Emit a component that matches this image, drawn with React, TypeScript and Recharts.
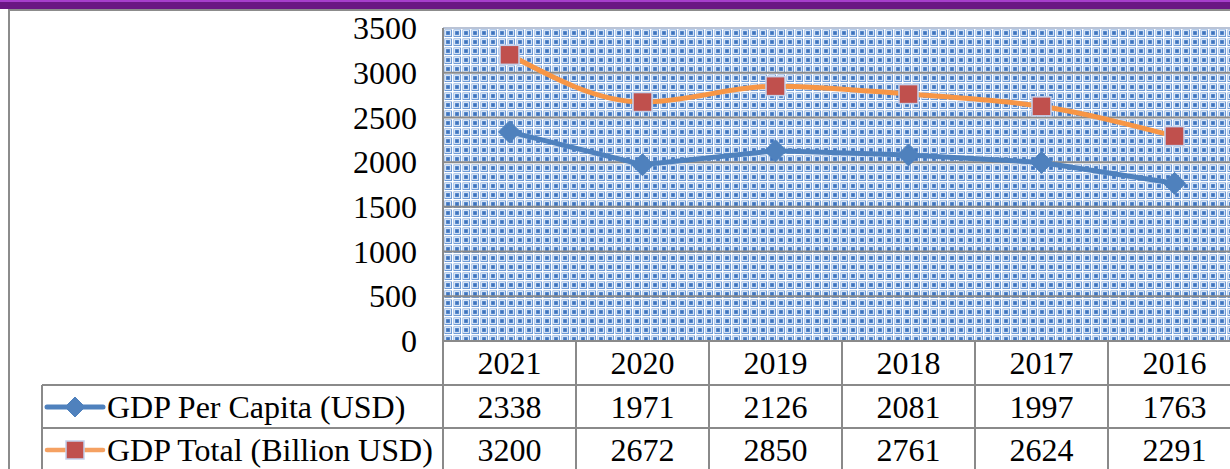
import { ComposedChart, Line, XAxis, YAxis, CartesianGrid } from 'recharts';

const years = ['2021', '2020', '2019', '2018', '2017', '2016'];
const perCapita = [2338, 1971, 2126, 2081, 1997, 1763];
const totalGdp = [3200, 2672, 2850, 2761, 2624, 2291];
const yTicks = [0, 500, 1000, 1500, 2000, 2500, 3000, 3500];

const SERIES = [
  { key: 'perCapita', label: 'GDP Per Capita (USD)', color: '#4f81bd' },
  { key: 'total', label: 'GDP Total (Billion USD)', color: '#f79646' },
];

const data = years.map((year, i) => ({
  year,
  perCapita: perCapita[i],
  total: totalGdp[i],
}));

const FONT = 'Liberation Serif';
const FS = 32;
const GRID = '#8a8a8a';
const PLOT_LEFT = 443;
const PLOT_TOP = 28;
const PLOT_BOTTOM = 341;
const COL_W = 133;
const ROW1 = 385;
const ROW2 = 428;
const H = 469;

const textStyle = { fontFamily: FONT, fontSize: FS };

function Diamond({ cx, cy, size = 11 }: { cx: number; cy: number; size?: number }) {
  return (
    <path
      d={`M${cx},${cy - size} L${cx + size},${cy} L${cx},${cy + size} L${cx - size},${cy} Z`}
      fill="#4f81bd"
      stroke="#4f81bd"
      strokeWidth={1}
    />
  );
}

function Square({ cx, cy, size = 9.5 }: { cx: number; cy: number; size?: number }) {
  return (
    <rect
      x={cx - size}
      y={cy - size}
      width={size * 2}
      height={size * 2}
      fill="#c0504d"
      stroke="#c3d1ec"
      strokeWidth={1.5}
    />
  );
}

/** Each x tick draws its column of the data table under the plot. */
function TableTick(props: any) {
  const { x, payload } = props;
  const i = payload.index;
  const left = x - COL_W / 2;
  const right = x + COL_W / 2;
  return (
    <g>
      <line x1={left} x2={left} y1={PLOT_BOTTOM} y2={H} stroke={GRID} strokeWidth={2} />
      <line x1={right} x2={right} y1={PLOT_BOTTOM} y2={H} stroke={GRID} strokeWidth={2} />
      <line x1={left} x2={right} y1={ROW1} y2={ROW1} stroke={GRID} strokeWidth={2} />
      <line x1={left} x2={right} y1={ROW2} y2={ROW2} stroke={GRID} strokeWidth={2} />
      <text x={x} y={363} dy="0.35em" textAnchor="middle" fill="#000" style={textStyle}>{years[i]}</text>
      <text x={x} y={407} dy="0.35em" textAnchor="middle" fill="#000" style={textStyle}>{perCapita[i]}</text>
      <text x={x} y={450} dy="0.35em" textAnchor="middle" fill="#000" style={textStyle}>{totalGdp[i]}</text>
    </g>
  );
}

function YTick(props: any) {
  const { x, y, payload } = props;
  return (
    <text x={x + 1} y={y} dy="0.35em" textAnchor="end" fill="#000" style={textStyle}>
      {payload.value}
    </text>
  );
}

export default function App() {
  return (
    <div
      style={{
        position: 'absolute',
        left: 0,
        top: 0,
        width: 1230,
        height: H,
        overflow: 'hidden',
        background: '#fff',
      }}
    >
      <svg width={0} height={0} style={{ position: 'absolute' }}>
        <defs>
          {/* woven fill of the plot area */}
          <pattern id="weave" x={443} y={28} width={9} height={9} patternUnits="userSpaceOnUse">
            <rect width={9} height={9} fill="#6d9ad6" />
            <rect x={0} y={0} width={9} height={1.5} fill="#ffffff" />
            <rect x={0} y={0} width={1.5} height={9} fill="#ffffff" />
            <rect x={2.5} y={2.5} width={5} height={5} fill="none" stroke="#d6e4f6" strokeWidth={1} />
            <rect x={3.5} y={3.5} width={3} height={3} fill="#3f74bd" />
          </pattern>
        </defs>
      </svg>

      {/* page frame */}
      <div style={{ position: 'absolute', left: 0, top: 0, width: 1230, height: 2, background: '#a63fcb' }} />
      <div style={{ position: 'absolute', left: 0, top: 2, width: 1230, height: 7, background: '#6a1783' }} />
      <div style={{ position: 'absolute', left: 9, top: 9, width: 1221, height: 2, background: '#8c8c8c' }} />
      <div style={{ position: 'absolute', left: 8, top: 9, width: 2, height: H, background: '#8c8c8c' }} />

      <ComposedChart
        width={1241}
        height={H}
        data={data}
        margin={{ top: PLOT_TOP, right: 0, bottom: 0, left: 0 }}
        style={{ position: 'absolute', left: 0, top: 0 }}
      >
        <CartesianGrid fill="url(#weave)" stroke={GRID} strokeWidth={2} vertical={false} />
        <XAxis
          dataKey="year"
          scale="band"
          height={H - PLOT_BOTTOM}
          interval={0}
          tick={<TableTick />}
          tickLine={false}
          axisLine={{ stroke: GRID, strokeWidth: 2 }}
        />
        <YAxis
          width={PLOT_LEFT}
          domain={[0, 3500]}
          ticks={yTicks}
          tickSize={0}
          tickMargin={27}
          tickLine={false}
          axisLine={{ stroke: GRID, strokeWidth: 2 }}
          tick={<YTick />}
        />
        <Line
          dataKey="perCapita"
          type="linear"
          stroke={SERIES[0].color}
          strokeWidth={5}
          dot={(p: any) => <Diamond key={p.index} cx={p.cx} cy={p.cy} />}
          isAnimationActive={false}
        />
        <Line
          dataKey="total"
          type="monotone"
          stroke={SERIES[1].color}
          strokeWidth={5}
          dot={(p: any) => <Square key={p.index} cx={p.cx} cy={p.cy} />}
          isAnimationActive={false}
        />
      </ComposedChart>

      {/* legend column of the data table */}
      <svg width={1230} height={H} style={{ position: 'absolute', left: 0, top: 0, pointerEvents: 'none' }}>
        <line x1={443} x2={1230} y1={PLOT_TOP} y2={PLOT_TOP} stroke="#b9c3d6" strokeWidth={2} />
        <line x1={PLOT_LEFT} x2={PLOT_LEFT} y1={PLOT_TOP} y2={H} stroke={GRID} strokeWidth={2} />
        <line x1={42} x2={PLOT_LEFT} y1={ROW1} y2={ROW1} stroke={GRID} strokeWidth={2} />
        <line x1={42} x2={PLOT_LEFT} y1={ROW2} y2={ROW2} stroke={GRID} strokeWidth={2} />
        <line x1={42} x2={42} y1={ROW1} y2={H} stroke={GRID} strokeWidth={2} />
        <line x1={47} x2={103} y1={407} y2={407} stroke={SERIES[0].color} strokeWidth={5} strokeLinecap="round" />
        <Diamond cx={75} cy={407} size={10} />
        <text x={107} y={407} dy="0.35em" fill="#000" style={textStyle}>
          {SERIES[0].label}
        </text>
        <line x1={47} x2={103} y1={450} y2={450} stroke="#f5a162" strokeWidth={4.5} strokeLinecap="round" />
        <Square cx={75} cy={450} size={9} />
        <text x={107} y={450} dy="0.35em" fill="#000" style={textStyle}>
          {SERIES[1].label}
        </text>
      </svg>
    </div>
  );
}
